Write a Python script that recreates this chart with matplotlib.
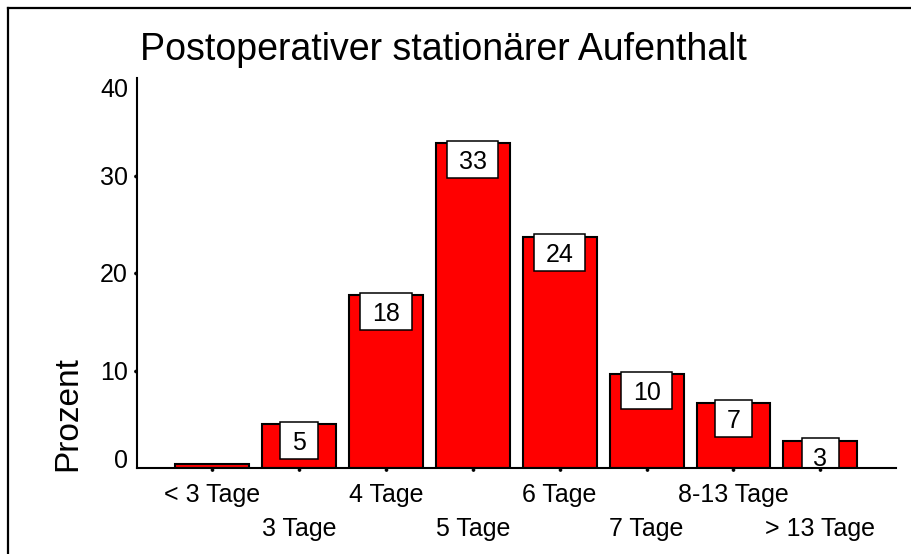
import matplotlib
matplotlib.use('Agg')
import matplotlib.pyplot as plt
from matplotlib.path import Path
from matplotlib.lines import Line2D

plt.rcParams['font.family'] = ['Liberation Sans', 'DejaVu Sans']

categories = ['< 3 Tage', '3 Tage', '4 Tage', '5 Tage', '6 Tage', '7 Tage', '8-13 Tage', '> 13 Tage']
percent = [0.38, 4.5, 17.7, 33.3, 23.7, 9.6, 6.7, 2.8]
labels = [None, '5', '18', '33', '24', '10', '7', '3']
yticks = [0, 10, 20, 30, 40]

W, H = 911, 554


def label_box(x0, y0, width, height, mutation_size):
    # wider padding left/right, a bit more on top than below
    px, pt, pb = 0.47 * mutation_size, 0.36 * mutation_size, 0.16 * mutation_size
    xa, xb = x0 - px, x0 + width + px
    ya, yb = y0 - pb, y0 + height + pt
    return Path([(xa, ya), (xb, ya), (xb, yb), (xa, yb), (xa, ya)], closed=True)


# small dots sitting just outside the axis line
dot_down = Path.circle((0, -0.6), 0.5)
dot_left = Path.circle((-0.6, 0), 0.5)

fig = plt.figure(figsize=(W / 100, H / 100), dpi=100)
ax = fig.add_axes([137 / W, (H - 468) / H, (896 - 137) / W, (468 - 78) / H])
ax.set_axisbelow(False)

x = list(range(len(categories)))
ax.bar(x, percent, width=0.85, color='#ff0000', edgecolor='black', linewidth=1.5, zorder=2)

for xi, val, lab in zip(x, percent, labels):
    if lab is None:
        continue
    ax.annotate(lab, (xi, val), xytext=(0, -25.5), textcoords='offset pixels',
                ha='center', va='baseline', fontsize=18, clip_on=True, zorder=3,
                bbox=dict(boxstyle=label_box, facecolor='white', edgecolor='black', linewidth=1.1))

ax.set_xlim(-0.863, 7.87)
ax.set_ylim(0, 40)
for s in ['top', 'right']:
    ax.spines[s].set_visible(False)
for s in ['left', 'bottom']:
    ax.spines[s].set_linewidth(1.5)
    ax.spines[s].set_zorder(4)

ax.set_xticks(x)
ax.set_xticklabels(categories, fontsize=18)
ax.set_yticks(yticks)
ax.set_yticklabels([str(v) for v in yticks], fontsize=18)
ax.tick_params(axis='both', length=0)
ax.tick_params(axis='x', pad=11)
ax.tick_params(axis='y', pad=6.5)

for i, t in enumerate(ax.xaxis.get_major_ticks()):
    if i % 2 == 1:
        t.set_pad(35.5)
    t.tick1line.set_marker(dot_down)
    t.tick1line.set_markersize(4.0)
    t.tick1line.set_color('black')
    t.tick1line.set_zorder(5)

for v, t in zip(yticks, ax.yaxis.get_major_ticks()):
    if v in (0, 40):
        t.tick1line.set_visible(False)
    else:
        t.tick1line.set_marker(dot_left)
        t.tick1line.set_markersize(4.0)
        t.tick1line.set_color('black')
for v, lab in zip(yticks, ax.get_yticklabels()):
    if v == 0:
        lab.set_va('baseline')
    elif v == 40:
        lab.set_va('top')

fig.text(140 / W, 1 - 60 / H, 'Postoperativer stationärer Aufenthalt',
         fontsize=27, ha='left', va='baseline')
fig.text(68 / W, 1 - 413.5 / H, 'Prozent', fontsize=24, rotation=90,
         ha='center', va='center')

# outer frame (only left and top edges fall inside the image)
fig.add_artist(Line2D([8 / W, 8 / W], [0, 1 - 8 / H], transform=fig.transFigure,
                      color='black', linewidth=1.6))
fig.add_artist(Line2D([8 / W, 1], [1 - 8 / H, 1 - 8 / H], transform=fig.transFigure,
                      color='black', linewidth=1.6))

fig.savefig('out.png', dpi=100)
